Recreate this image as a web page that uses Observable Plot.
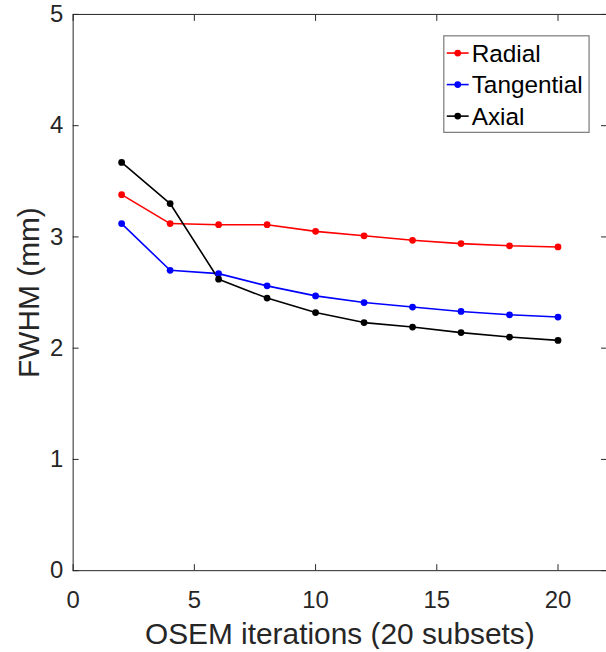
<!DOCTYPE html>
<html>
<head>
<meta charset="utf-8">
<script src="https://cdn.jsdelivr.net/npm/d3@7"></script>
<script src="https://cdn.jsdelivr.net/npm/@observablehq/plot@0.6"></script>
<style>
  html, body { margin: 0; padding: 0; background: #fff; overflow: hidden; }
  #chart svg { display: block; }
</style>
</head>
<body>
<div id="chart"></div>
<script>
const iterations = [2, 4, 6, 8, 10, 12, 14, 16, 18, 20];
const radial     = [3.38, 3.12, 3.11, 3.11, 3.05, 3.01, 2.97, 2.94, 2.92, 2.91];
const tangential = [3.12, 2.70, 2.67, 2.56, 2.47, 2.41, 2.37, 2.33, 2.30, 2.28];
const axial      = [3.67, 3.30, 2.62, 2.45, 2.32, 2.23, 2.19, 2.14, 2.10, 2.07];
const seriesNames = ["Radial", "Tangential", "Axial"];
const seriesColors = ["#ff0000", "#0000ff", "#000000"];
const xTicks = [0, 5, 10, 15, 20];
const yTicks = [0, 1, 2, 3, 4, 5];
const xLabel = "OSEM iterations (20 subsets)";
const yLabel = "FWHM (mm)";

const seriesValues = [radial, tangential, axial];
const data = seriesNames.flatMap((name, i) =>
  iterations.map((it, j) => ({series: name, x: it, y: seriesValues[i][j]}))
);

const font = "'Liberation Sans', Arial, Helvetica, sans-serif";
const axisColor = "#262626";
const fmt = d3.format("d");

const plot = Plot.plot({
  width: 609,
  height: 652,
  marginLeft: 73,
  marginRight: 0,
  marginTop: 14,
  marginBottom: 79,
  style: {fontFamily: font, background: "#fff", color: axisColor, overflow: "visible"},
  x: {domain: [0, 22]},
  y: {domain: [0, 5]},
  color: {domain: seriesNames, range: seriesColors},
  marks: [
    Plot.frame({stroke: axisColor, strokeWidth: 1}),
    Plot.axisX(xTicks, {anchor: "bottom", tickSize: -6, fill: "none", label: null, stroke: axisColor}),
    Plot.axisX(xTicks, {anchor: "top", tickSize: -6, fill: "none", label: null, stroke: axisColor}),
    Plot.axisY(yTicks, {anchor: "left", tickSize: -6, fill: "none", label: null, stroke: axisColor}),
    Plot.axisY(yTicks, {anchor: "right", tickSize: -6, fill: "none", label: null, stroke: axisColor}),
    Plot.axisX(xTicks, {anchor: "bottom", tickSize: 0, tickPadding: 20, fontSize: 24, label: null, fill: axisColor, tickFormat: fmt}),
    Plot.axisY(yTicks, {anchor: "left", tickSize: 0, tickPadding: 10, fontSize: 24, label: null, fill: axisColor, tickFormat: fmt}),
    Plot.text([xLabel], {frameAnchor: "bottom", dy: 64, text: d => d, fontSize: 30, fill: axisColor, lineAnchor: "middle", textAnchor: "middle"}),
    Plot.text([yLabel], {frameAnchor: "left", dx: -44, text: d => d, fontSize: 30, fill: axisColor, rotate: -90, lineAnchor: "middle", textAnchor: "middle"}),
    Plot.line(data, {x: "x", y: "y", z: "series", stroke: "series", strokeWidth: 1.6}),
    Plot.dot(data, {x: "x", y: "y", fill: "series", r: 3.4})
  ]
});

document.getElementById("chart").appendChild(plot);

// Legend box inside the plot area (top-right)
const svg = d3.select(plot);
const lg = svg.append("g").attr("transform", "translate(446,36)").attr("text-anchor", "start");
lg.append("rect")
  .attr("x", 0).attr("y", 0).attr("width", 146).attr("height", 97)
  .attr("fill", "#fff").attr("stroke", "#7a7a7a").attr("stroke-width", 1.2);
seriesNames.forEach((name, i) => {
  const cy = 17.3 + i * 31.7;
  lg.append("line").attr("x1", 3).attr("x2", 25).attr("y1", cy).attr("y2", cy)
    .attr("stroke", seriesColors[i]).attr("stroke-width", 1.6);
  lg.append("circle").attr("cx", 14).attr("cy", cy).attr("r", 3.4).attr("fill", seriesColors[i]);
  lg.append("text").attr("x", 28).attr("y", cy).attr("dy", "0.35em")
    .attr("text-anchor", "start")
    .attr("font-size", 24.5).attr("font-family", font).attr("fill", "#000").text(name);
});
</script>
</body>
</html>
